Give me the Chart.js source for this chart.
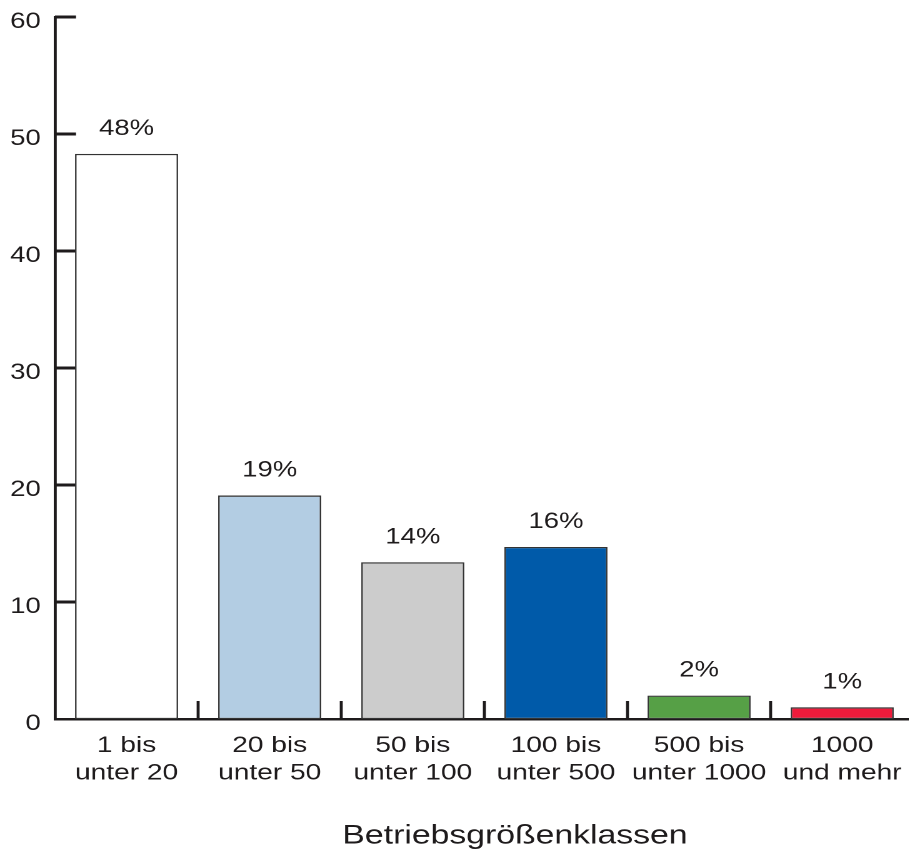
<!DOCTYPE html>
<html>
<head>
<meta charset="utf-8">
<script src="https://cdn.jsdelivr.net/npm/chart.js@4/dist/chart.umd.min.js"></script>
<style>
html,body{margin:0;padding:0;overflow:hidden;background:#fff;width:909px;height:851px}
#wrap{position:absolute;left:0;top:0;width:731px;height:851px;transform:scaleX(1.25);transform-origin:0 0}
canvas{display:block}
</style>
</head>
<body>
<div id="wrap"><canvas id="c" width="731" height="851"></canvas></div>
<script>
// ---- data ----
const categories = [
  ['1 bis', 'unter 20'],
  ['20 bis', 'unter 50'],
  ['50 bis', 'unter 100'],
  ['100 bis', 'unter 500'],
  ['500 bis', 'unter 1000'],
  ['1000', 'und mehr']
];
const shares = [48.3, 19.1, 13.4, 14.7, 2.0, 1.0];
const shareLabels = ['48%', '19%', '14%', '16%', '2%', '1%'];
const yTickValues = [0, 10, 20, 30, 40, 50, 60];
const axisTitle = 'Betriebsgrößenklassen';

// ---- style ----
const INK = '#1e1b1c';
const FONT = "'Liberation Sans', Arial, Helvetica, sans-serif";

const marksPlugin = {
  id: 'marks',
  beforeDatasetsDraw(chart) {
    const {ctx, chartArea, scales: {x, y}} = chart;
    ctx.save();
    ctx.strokeStyle = INK;
    ctx.lineWidth = 3;
    yTickValues.forEach(v => {
      if (v === 0) return;
      const py = y.getPixelForValue(v);
      ctx.beginPath();
      ctx.moveTo(chartArea.left, py);
      ctx.lineTo(chartArea.left + 16.8, py);
      ctx.stroke();
    });
    ctx.lineWidth = 2.4;
    for (let i = 1; i < categories.length; i++) {
      const px = (x.getPixelForValue(i - 1) + x.getPixelForValue(i)) / 2;
      ctx.beginPath();
      ctx.moveTo(px, chartArea.bottom);
      ctx.lineTo(px, chartArea.bottom - 18);
      ctx.stroke();
    }
    ctx.restore();
  },
  afterDraw(chart) {
    const {ctx, chartArea} = chart;
    ctx.save();
    ctx.fillStyle = INK;
    ctx.textAlign = 'center';
    ctx.textBaseline = 'middle';
    ctx.font = '22px ' + FONT;
    const meta = chart.getDatasetMeta(0);
    meta.data.forEach((el, i) => {
      ctx.fillText(shareLabels[i], el.x, el.y - 25);
    });
    ctx.font = '27px ' + FONT;
    ctx.fillText(axisTitle, (chartArea.left + chartArea.right) / 2 + 24.5, 836);
    ctx.restore();
  }
};

new Chart(document.getElementById('c'), {
  type: 'bar',
  data: {
    labels: categories,
    datasets: [{
      data: shares,
      backgroundColor: ['#ffffff', '#b3cde3', '#cccccc', '#005aa9', '#56a046', '#ee1b3b'],
      borderColor: '#333333',
      borderWidth: 1.3,
      borderSkipped: false,
      barPercentage: 0.72,
      categoryPercentage: 1.0
    }]
  },
  options: {
    responsive: false,
    devicePixelRatio: 2,
    animation: false,
    layout: {padding: {top: 17, left: 0, right: 0, bottom: 0}},
    plugins: {legend: {display: false}, tooltip: {enabled: false}},
    scales: {
      x: {
        grid: {display: false, drawTicks: false},
        border: {display: true, color: INK, width: 2.5},
        ticks: {
          color: INK,
          font: {family: FONT, size: 22.5, lineHeight: 1.22},
          padding: 13,
          maxRotation: 0,
          autoSkip: false
        },
        afterFit(scale) {
          scale.height = 132;
          scale.paddingLeft = 0;
          scale.paddingRight = 0;
        }
      },
      y: {
        min: 0,
        max: 60,
        grid: {display: false, drawTicks: false},
        border: {display: true, color: INK, width: 2.4},
        afterBuildTicks(scale) { scale.ticks = yTickValues.map(v => ({value: v})); },
        ticks: {
          color: INK,
          font: {family: FONT, size: 22},
          padding: 11.4,
          labelOffset: 5
        },
        afterFit(scale) {
          scale.width = 44;
          scale.paddingTop = 0;
          scale.paddingBottom = 0;
        }
      }
    }
  },
  plugins: [marksPlugin]
});
</script>
</body>
</html>
